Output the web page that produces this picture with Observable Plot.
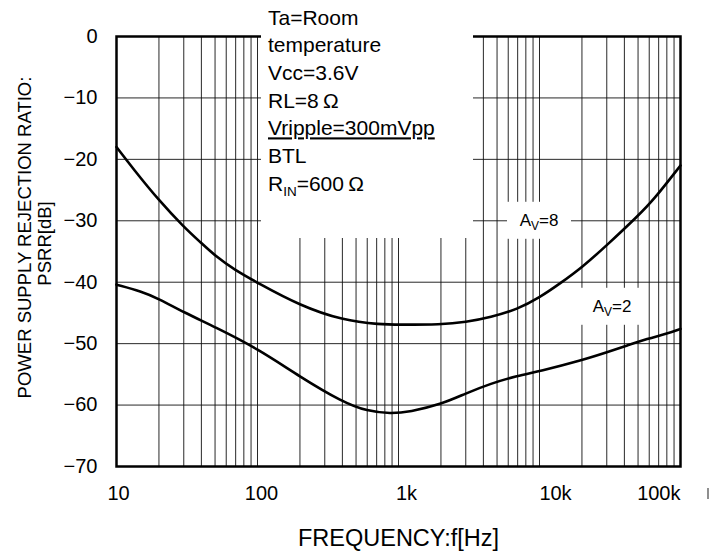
<!DOCTYPE html>
<html><head><meta charset="utf-8">
<script src="https://cdn.jsdelivr.net/npm/d3@7"></script>
<script src="https://cdn.jsdelivr.net/npm/@observablehq/plot@0.6"></script>
<style>
body{margin:0;background:#fff;}
svg{font-family:"Liberation Sans",Arial,sans-serif;}
</style>
</head><body><div id="chart"></div>
<script>
// ---- data ----
const freqAv8 = [10, 13.2, 20, 30, 39.4, 50, 68, 100, 200, 400, 750, 1000, 2000, 3000, 4500, 7000, 10000, 14000, 20000, 30000, 50000, 65000, 100000];
const psrrAv8 = [-18.0, -21.6, -26.7, -31.0, -33.5, -35.7, -37.9, -40.1, -43.8, -46.2, -46.9, -46.9, -46.9, -46.5, -45.7, -44.4, -42.5, -40.2, -37.6, -34.0, -29.2, -26.5, -21.0];
const freqAv2 = [10, 15, 20, 30, 50, 100, 200, 400, 600, 880, 1200, 2000, 3000, 4500, 7000, 10000, 20000, 30000, 42000, 58000, 80000, 100000];
const psrrAv2 = [-40.4, -41.5, -42.7, -44.9, -47.3, -50.8, -55.4, -59.5, -61.0, -61.4, -61.1, -59.9, -58.1, -56.5, -55.2, -54.5, -52.7, -51.4, -50.3, -49.2, -48.4, -47.6];
const xTicks = [10, 100, 1000, 10000, 100000];
const xTickLabels = ["10", "100", "1k", "10k", "100k"];
const yTicks = [0, -10, -20, -30, -40, -50, -60, -70];
const seriesLabels = [{f: 10000, db: -30, gain: "8"}, {f: 33000, db: -44, gain: "2"}];
const conditions = ["Ta=Room", "temperature", "Vcc=3.6V", "RL=8\u2009Ω", "Vripple=300mVpp", "BTL", "R_IN=600\u2009Ω"];
const xTitle = "FREQUENCY:f[Hz]";
const yTitle = ["POWER SUPPLY REJECTION RATIO:", "PSRR[dB]"];

const av8 = freqAv8.map((f, i) => ({f, db: psrrAv8[i]}));
const av2 = freqAv2.map((f, i) => ({f, db: psrrAv2[i]}));
const gridFreqs = d3.scaleLog().domain([10, 100000]).ticks();

const FONT = "'Liberation Sans', Arial, sans-serif";
const tickDx = [2, 4, 8, 16];

const plot = Plot.plot({
  width: 723, height: 560,
  marginLeft: 116, marginRight: 43, marginTop: 36, marginBottom: 94,
  style: {fontFamily: FONT, background: "#fff", color: "#000", overflow: "visible"},
  x: {type: "log", domain: [10, 100000], axis: null},
  y: {domain: [-70, 0], axis: null},
  marks: [
    Plot.gridX(gridFreqs, {stroke: "#111", strokeOpacity: 0.9, strokeWidth: 1}),
    Plot.gridY(yTicks, {stroke: "#111", strokeOpacity: 0.9, strokeWidth: 1}),
    Plot.frame({stroke: "#000", strokeWidth: 2.5}),
    Plot.axisY(yTicks, {tickSize: 0, tickPadding: 19, fontSize: 20, label: null,
      tickFormat: d => d < 0 ? "\u2212" + Math.abs(d) : String(d)}),
    ...xTicks.slice(0, 4).map((t, i) => Plot.text([t], {x: d => d, frameAnchor: "bottom", dy: 33, dx: tickDx[i], fontSize: 20,
      text: () => xTickLabels[i]})),
    Plot.text(xTicks.slice(4), {x: d => d, frameAnchor: "bottom", dy: 33, dx: 0, fontSize: 20, textAnchor: "end",
      text: (d, i) => xTickLabels[4 + i]}),
    Plot.text([xTitle], {frameAnchor: "bottom", dy: 79, fontSize: 23.5, text: d => d}),
    Plot.text([yTitle[0]], {frameAnchor: "left", textAnchor: "middle", rotate: -90, dx: -91, dy: -14, fontSize: 18.5, text: d => d}),
    Plot.text([yTitle[1]], {frameAnchor: "left", textAnchor: "middle", rotate: -90, dx: -71, dy: -8, fontSize: 18.5, text: d => d}),
    Plot.line(av8, {x: "f", y: "db", stroke: "#000", strokeWidth: 2.6, curve: "basis"}),
    Plot.line(av2, {x: "f", y: "db", stroke: "#000", strokeWidth: 2.6, curve: "basis"})
  ]
});

document.getElementById("chart").appendChild(plot);

// ---- decorations: conditions box and series labels ----
const svg = d3.select(plot);
const sx = plot.scale("x"), sy = plot.scale("y");
const deco = svg.append("g").attr("font-family", FONT).attr("fill", "#000");

// conditions box
deco.append("rect").attr("x", 261).attr("y", 0).attr("width", 212).attr("height", 238).attr("fill", "#fff");
const condLines = deco.append("g").attr("font-size", 21).attr("text-anchor", "start");
conditions.forEach((t, i) => {
  const txt = condLines.append("text").attr("x", 268).attr("y", 17 + i * 27.7).attr("dy", "0.36em");
  if (t.startsWith("R_IN")) {
    txt.append("tspan").text("R");
    txt.append("tspan").attr("font-size", 13.5).attr("dy", 5).text("IN");
    txt.append("tspan").attr("dy", -5).text(t.slice(4));
  } else {
    txt.text(t);
    if (t.startsWith("Vripple")) txt.attr("text-decoration", "underline");
  }
});

// series labels
seriesLabels.forEach(l => {
  const cx = sx.apply(l.f), cy = sy.apply(l.db);
  deco.append("rect").attr("x", cx - 32).attr("y", cy - 18.5).attr("width", 64).attr("height", 37).attr("fill", "#fff");
  const t = deco.append("text").attr("x", cx).attr("y", cy).attr("dy", "0.36em")
    .attr("text-anchor", "middle").attr("font-size", 17);
  t.append("tspan").text("A");
  t.append("tspan").attr("font-size", 12).attr("dy", 4).text("V");
  t.append("tspan").attr("dy", -4).text("=" + l.gain);
});

// small stray mark at right of axis labels
deco.append("line").attr("x1", 708).attr("x2", 708).attr("y1", 488).attr("y2", 499)
  .attr("stroke", "#444").attr("stroke-width", 1.2);
</script>
</body></html>
